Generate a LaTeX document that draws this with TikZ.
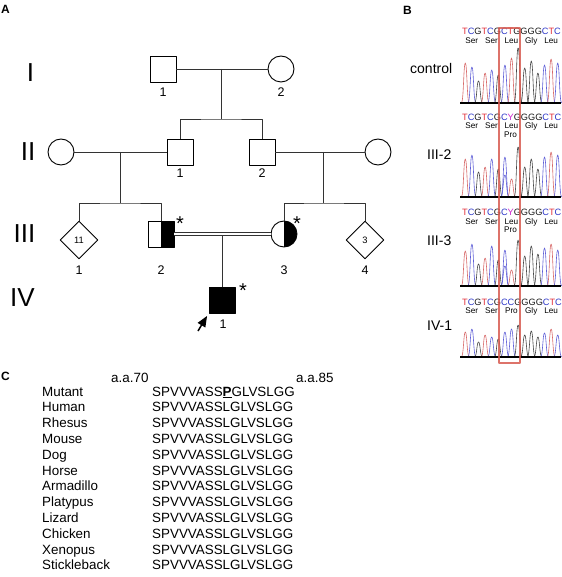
\documentclass[tikz,border=0pt]{standalone}
\usepackage{fontspec}
\setmainfont{Liberation Sans}
\usepackage{tikz}
\usetikzlibrary{shapes.geometric}
\usetikzlibrary{arrows}
\usetikzlibrary{positioning}

\definecolor{baseT}{RGB}{225,50,60}
\definecolor{baseC}{RGB}{45,55,200}
\definecolor{baseG}{RGB}{25,25,25}
\definecolor{baseY}{RGB}{205,40,205}
\definecolor{traceT}{RGB}{215,105,105}
\definecolor{traceC}{RGB}{95,95,215}
\definecolor{traceG}{RGB}{70,70,70}
\definecolor{boxred}{RGB}{215,90,80}

\newcommand{\bT}{\textcolor{baseT}{T}}
\newcommand{\bC}{\textcolor{baseC}{C}}
\newcommand{\bG}{\textcolor{baseG}{G}}
\newcommand{\bY}{\textcolor{baseY}{Y}}
% one chromatogram peak: x, baseline, height, style
\newcommand{\peak}[4]{\draw[#4] (#1-4,#2) .. controls (#1-1.6,#2) and (#1-1.8,#2-#3) .. (#1,#2-#3)
  .. controls (#1+1.8,#2-#3) and (#1+1.6,#2) .. (#1+4,#2);}

\begin{document}
\begin{tikzpicture}[x=1pt, y=-1pt, >=triangle 45, line join=round,
  every person/.style={draw, line width=0.9pt, inner sep=0pt, fill=white},
  male/.style={rectangle, minimum size=26pt},
  female/.style={circle, minimum size=26pt},
  sibs/.style={diamond, minimum width=38pt, minimum height=38pt, font=\fontsize{9.3}{11}\selectfont},
  affected/.style={fill=black},
  carrier/.style={path picture={\fill[black] (path picture bounding box.north) rectangle (path picture bounding box.south east);}},
  line/.style={draw=black!80, line width=0.9pt},
  gen/.style={font=\fontsize{26}{30}\selectfont},
  idnum/.style={font=\fontsize{12.5}{14}\selectfont},
  asterisk/.style={font=\fontsize{20}{22}\selectfont, anchor=base, inner sep=0pt},
  panel/.style={font=\bfseries\fontsize{12}{14}\selectfont, anchor=west, inner sep=0pt},
  sample/.style={font=\fontsize{14}{16}\selectfont, anchor=west, inner sep=0pt},
  seqtext/.style={font=\fontsize{9.2}{11}\selectfont, anchor=west, inner sep=0pt},
  aa/.style={font=\fontsize{8.2}{10}\selectfont, anchor=base, inner sep=0pt},
  trace T/.style={draw=traceT, line width=0.6pt},
  trace C/.style={draw=traceC, line width=0.6pt},
  trace G/.style={draw=traceG, line width=0.6pt},
  axis/.style={draw=black, line width=1.2pt},
  codon box/.style={draw=boxred, line width=1.4pt, opacity=0.85},
  species/.style={font=\fontsize{13.4}{16}\selectfont, anchor=base west, inner sep=0pt},
  protein/.style={font=\fontsize{13.4}{16}\selectfont, anchor=base west, inner sep=0pt}]

\useasboundingbox (0,0) rectangle (561,577);

% panel letters
\node [panel] (A) at (1,9) {A};
\node [panel] (B) at (403,10) {B};
\node [panel] (C) at (1,376) {C};

%% A: pedigree
\foreach \l/\x/\y in {I/30.5/72.5, II/28/152, III/24.5/234, IV/22.5/298}
  \node [gen] (gen-\l) at (\x,\y) {\l};

\foreach \name/\kind/\x/\y in {I-1/male/163/69, I-2/female/281/69,
    II-w1/female/61/152, II-1/male/180/152, II-2/male/262/152, II-w2/female/378/152}
  \node [every person, \kind] (\name) at (\x,\y) {};

\node [every person, sibs] (III-1) at (79,240) {11};
\node [every person, male, carrier] (III-2) at (161,234) {};
\node [every person, female, carrier] (III-3) at (284,234) {};
\node [every person, sibs] (III-4) at (365,240) {3};
\node [every person, male, affected] (IV-1) at (222,300) {};

\foreach \name/\l/\x/\y in {I-1/1/163/92, I-2/2/281/92, II-1/1/180/173, II-2/2/262/173,
    III-1/1/79/270, III-2/2/161/270, III-3/3/284/270, III-4/4/365/270, IV-1/1/223/324}
  \node [idnum] (\name-id) at (\x,\y) {\l};

\node [asterisk] (III-2-star) at (180,230) {*};
\node [asterisk] (III-3-star) at (297,230) {*};
\node [asterisk] (IV-1-star) at (243,297) {*};

% matings and sibships
\coordinate (I-m) at (221,69);
\coordinate (I-sib) at (221,119);
\draw [line] (I-1) -- (I-2);
\draw [line] (I-m) -- (I-sib);
\draw [line] (II-1.north) |- (I-sib) -| (II-2.north);

\coordinate (II-ml) at (120,152);
\coordinate (II-sl) at (120,203);
\draw [line] (II-w1) -- (II-1);
\draw [line] (II-ml) -- (II-sl);
\draw [line] (III-1.north) |- (II-sl) -| (III-2.north);

\coordinate (II-mr) at (323,152);
\coordinate (II-sr) at (323,203);
\draw [line] (II-2) -- (II-w2);
\draw [line] (II-mr) -- (II-sr);
\draw [line] (III-3.north) |- (II-sr) -| (III-4.north);

\coordinate (III-m) at (222,235);
\draw [draw=black!80, line width=0.9pt, double, double distance=2pt] (III-2) -- (III-3);
\draw [line] (III-m) -- (IV-1);

\coordinate (proband) at (198,331);
\draw [->, line width=1.5pt, shorten >=3pt] (proband) -- (IV-1.south west);

%% B: sequence traces
\node [sample] (lab-control) at (410,68) {control};
\node [sample] (lab-III-2) at (427,155) {III-2};
\node [sample] (lab-III-3) at (427,241) {III-3};
\node [sample] (lab-IV-1) at (427,326) {IV-1};

\node [seqtext] (seq-control) at (462,31) {\bT\bC\bG\bT\bC\bG\bC\bT\bG\bG\bG\bG\bC\bT\bC};
\node [seqtext] (seq-III-2) at (462,117) {\bT\bC\bG\bT\bC\bG\bC\bY\bG\bG\bG\bG\bC\bT\bC};
\node [seqtext] (seq-III-3) at (462,212) {\bT\bC\bG\bT\bC\bG\bC\bY\bG\bG\bG\bG\bC\bT\bC};
\node [seqtext] (seq-IV-1) at (462,302) {\bT\bC\bG\bT\bC\bG\bC\bC\bG\bG\bG\bG\bC\bT\bC};

\foreach \aa [count=\k from 0] in {Ser,Ser,Leu,Gly,Leu}
  \node [aa] (aa-control-\k) at (471.7+19.85*\k,44) {\aa};
\foreach \aa [count=\k from 0] in {Ser,Ser,Leu,Gly,Leu}
  \node [aa] (aa-III-2-\k) at (471.7+19.85*\k,129) {\aa};
\foreach \aa [count=\k from 0] in {Ser,Ser,Leu,Gly,Leu}
  \node [aa] (aa-III-3-\k) at (471.7+19.85*\k,224) {\aa};
\foreach \aa [count=\k from 0] in {Ser,Ser,Pro,Gly,Leu}
  \node [aa] (aa-IV-1-\k) at (471.7+19.85*\k,313) {\aa};
\node [aa] (pro-III-2) at (510.6,138) {Pro};
\node [aa] (pro-III-3) at (510.6,232) {Pro};

\foreach \b/\h [count=\i, evaluate=\i as \px using 458.7+6.6*\i] in
    {T/40,C/36,G/22,T/30,C/33,G/28,C/38,T/45,G/55,G/35,G/42,G/30,C/38,T/44,C/40}
  \peak{\px}{103}{\h}{trace \b};
\draw [axis, line width=1.8pt] (460,103) -- (561,103);

\foreach \b/\h [count=\i, evaluate=\i as \px using 458.7+6.6*\i] in
    {T/38,C/42,G/25,T/30,C/38,G/28,C/40,T/18,G/50,G/30,G/38,G/28,C/40,T/45,C/42}
  \peak{\px}{197}{\h}{trace \b};
\peak{504.9}{197}{22}{trace C}
\draw [axis] (460,197) -- (561,197);

\foreach \b/\h [count=\i, evaluate=\i as \px using 458.7+6.6*\i] in
    {T/35,C/42,G/22,T/28,C/40,G/26,C/36,T/16,G/46,G/30,G/40,G/32,C/38,T/42,C/36}
  \peak{\px}{286}{\h}{trace \b};
\peak{504.9}{286}{20}{trace C}
\draw [axis] (460,286) -- (561,286);

\foreach \b/\h [count=\i, evaluate=\i as \px using 458.7+6.6*\i] in
    {T/25,C/28,G/15,T/22,C/20,G/18,C/25,C/28,G/32,G/22,G/26,G/20,C/24,T/28,C/22}
  \peak{\px}{357}{\h}{trace \b};
\draw [axis] (460,357) -- (561,357);

\draw [codon box] (499,28) rectangle (520,363);

%% C: alignment
\node [species] (aa70) at (111,382) {a.a.70};
\node [species] (aa85) at (296,382) {a.a.85};
\node [species] (species-0) at (42,396) {Mutant};
\node [protein] (protein-0) at (152,396) {SPVVVASS\underline{\textbf{P}}GLVSLGG};
\foreach \sp [count=\r] in {Human,Rhesus,Mouse,Dog,Horse,Armadillo,Platypus,Lizard,Chicken,Xenopus,Stickleback}
{
  \node [species] (species-\r) at (42,396+15.8*\r) {\sp};
  \node [protein] (protein-\r) at (152,396+15.8*\r) {SPVVVASSLGLVSLGG};
}

\end{tikzpicture}
\end{document}
